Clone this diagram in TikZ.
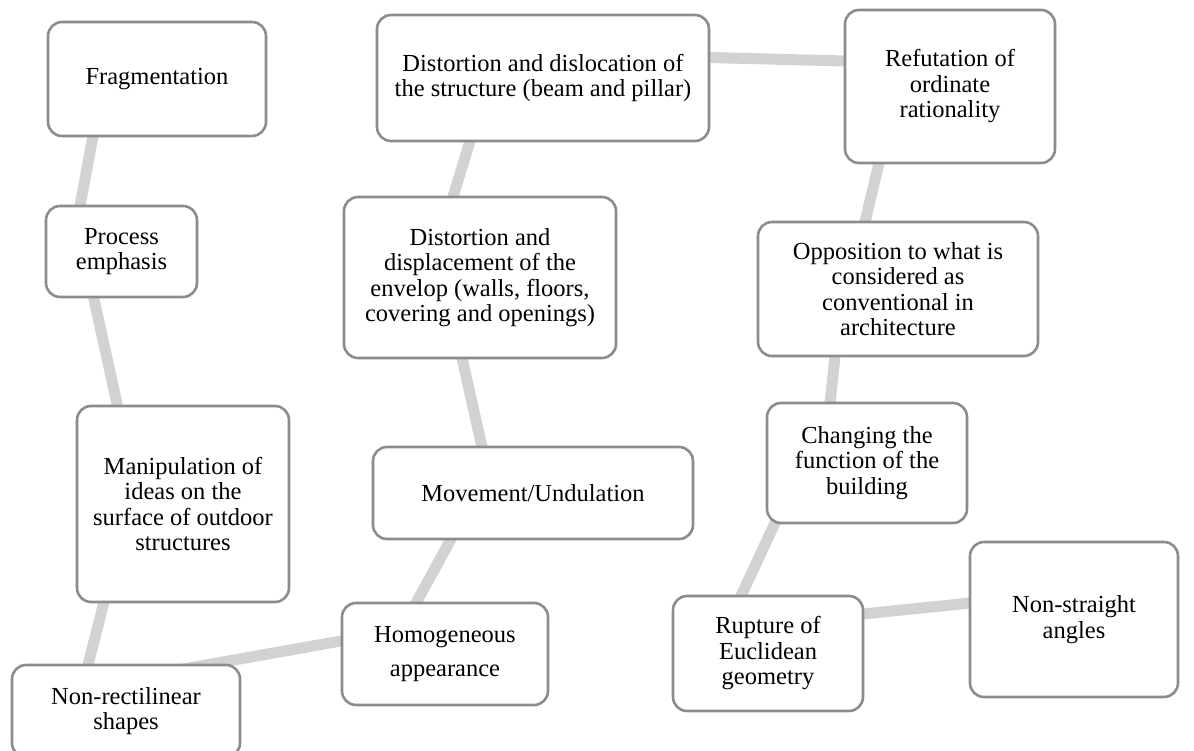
\documentclass[tikz,border=0pt]{standalone}
\usepackage{fontspec}
\setmainfont{Liberation Serif}
\usetikzlibrary{backgrounds}
\definecolor{boxgray}{HTML}{8C8C8C}
\definecolor{linkgray}{HTML}{D2D2D2}

\begin{document}
\begin{tikzpicture}[x=1pt, y=-1pt,
        idea/.style={draw=boxgray, line width=2.6pt, fill=white, rounded corners=14pt,
            align=center, inner sep=0pt, outer sep=0pt,
            font=\fontsize{24.5}{25.5}\selectfont},
        link/.style={draw=linkgray, line width=11pt, shorten <=-6pt, shorten >=-6pt}]
        \useasboundingbox (0,0) rectangle (1194,751);
        % left chain
        \node[idea, minimum width=218pt, minimum height=114pt] (frag) at (157,79) {Fragmentation};
        \node[idea, minimum width=151pt, minimum height=91pt] (proc) at (121.5,251.5) {Process\\emphasis};
        \node[idea, minimum width=212pt, minimum height=196pt] (manip) at (183,504)
            {Manipulation of\\ideas on the\\surface of outdoor\\structures};
        \node[idea, minimum width=228pt, minimum height=92pt] (nonrect) at (126,711) {Non-rectilinear\\shapes};
        % middle chain
        \node[idea, minimum width=206pt, minimum height=102pt] (homog) at (445,654) {Homogeneous\\[8pt]appearance};
        \node[idea, minimum width=320pt, minimum height=92pt] (movement) at (533,493) {Movement/Undulation};
        \node[idea, minimum width=272pt, minimum height=161pt] (envelop) at (480,277.5)
            {Distortion and\\displacement of the\\envelop (walls, floors,\\covering and openings)};
        \node[idea, minimum width=332pt, minimum height=126pt] (structure) at (543,78)
            {Distortion and dislocation of\\the structure (beam and pillar)};
        % right chain
        \node[idea, minimum width=210pt, minimum height=153pt] (refut) at (950,86.5) {Refutation of\\ordinate\\rationality};
        \node[idea, minimum width=280pt, minimum height=134pt] (oppos) at (898,289)
            {Opposition to what is\\considered as\\conventional in\\architecture};
        \node[idea, minimum width=200pt, minimum height=120pt] (changing) at (867,463) {Changing the\\function of the\\building};
        \node[idea, minimum width=190pt, minimum height=115pt] (rupture) at (768,653.5) {Rupture of\\Euclidean\\geometry};
        \node[idea, minimum width=208pt, minimum height=155pt] (nonstraight) at (1074,619.5) {Non-straight\\angles};

        \begin{scope}[on background layer]
            \draw[link] ([xshift=45pt]frag.south west) -- ([xshift=34pt]proc.north west);
            \draw[link] ([xshift=47.5pt]proc.south west) -- ([xshift=40.5pt]manip.north west);
            \draw[link] ([xshift=27pt]manip.south west) -- ([xshift=76pt]nonrect.north west);
            \draw[link] ([xshift=138pt,yshift=-10pt]nonrect.north west) -- ([xshift=38pt,yshift=20pt]homog.west);
            \draw[link] ([xshift=74pt]homog.north west) -- ([xshift=78pt]movement.south west);
            \draw[link] ([xshift=118pt]envelop.south west) -- ([xshift=109pt]movement.north west);
            \draw[link] ([xshift=109pt]envelop.north west) -- ([xshift=93pt]structure.south west);
            \draw[link] ([yshift=20.5pt]structure.east) -- ([yshift=25.5pt]refut.west);
            \draw[link] ([xshift=34pt]refut.south west) -- ([xshift=107pt]oppos.north west);
            \draw[link] ([xshift=77pt]oppos.south west) -- ([xshift=63pt]changing.north west);
            \draw[link] ([xshift=8pt]changing.south west) -- ([xshift=68pt]rupture.north west);
            \draw[link] ([yshift=39.5pt]rupture.east) -- ([yshift=16.5pt]nonstraight.west);
        \end{scope}
    \end{tikzpicture}
\end{document}
